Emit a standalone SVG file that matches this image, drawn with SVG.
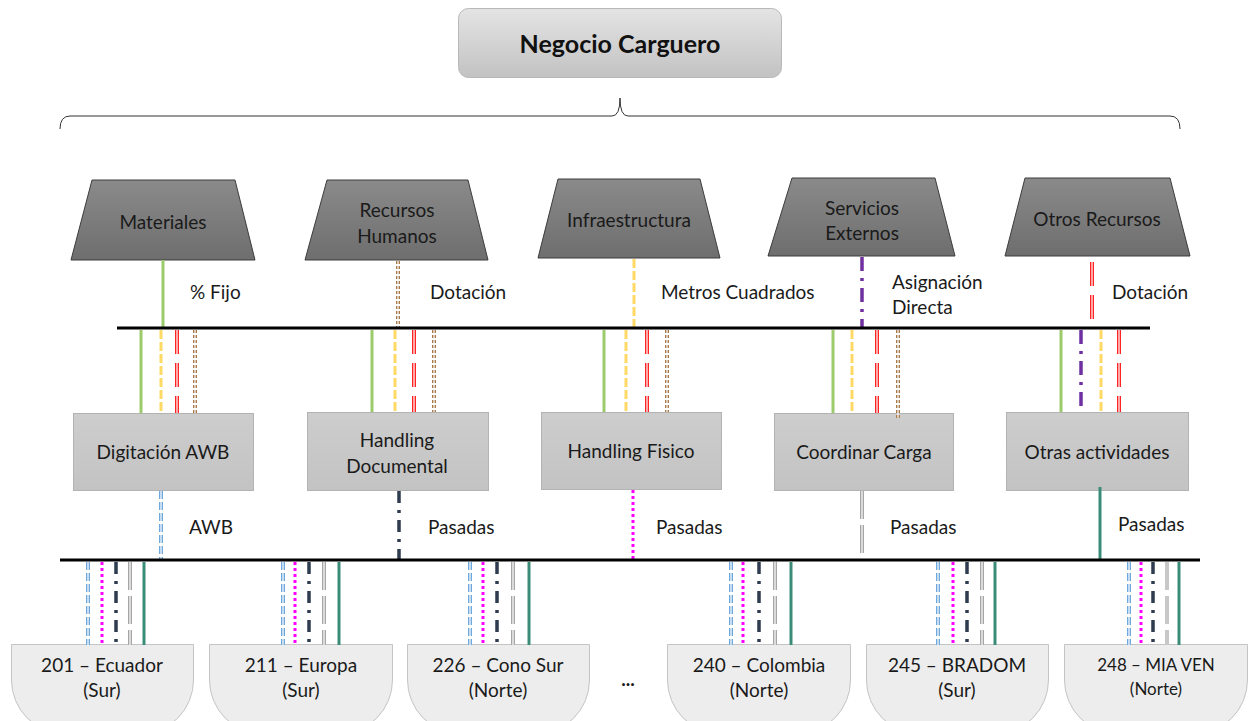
<svg xmlns="http://www.w3.org/2000/svg" width="1249" height="721" viewBox="0 0 1249 721">
  <defs>
    <linearGradient id="gTop" x1="0" y1="0" x2="0" y2="1">
      <stop offset="0" stop-color="#e4e4e4"/>
      <stop offset="1" stop-color="#c2c2c2"/>
    </linearGradient>
    <linearGradient id="gRes" x1="0" y1="0" x2="0" y2="1">
      <stop offset="0" stop-color="#8a8a8a"/>
      <stop offset="1" stop-color="#6e6e6e"/>
    </linearGradient>
    <linearGradient id="gAct" x1="0" y1="0" x2="0" y2="1">
      <stop offset="0" stop-color="#cdcdcd"/>
      <stop offset="1" stop-color="#c3c3c3"/>
    </linearGradient>
  </defs>
  <style>
    .t { font-family: Lato, "Open Sans", "Liberation Sans", sans-serif; font-size: 19px; fill: #1a1a1a; text-anchor: middle; }
    .lbl { font-family: Lato, "Open Sans", "Liberation Sans", sans-serif; font-size: 19px; fill: #1a1a1a; }
    .title { font-family: Lato, "Open Sans", "Liberation Sans", sans-serif; font-size: 25px; font-weight: bold; fill: #111; text-anchor: middle; }
    .res { fill: url(#gRes); stroke: #3c3c3c; stroke-width: 1; }
    .act { fill: url(#gAct); stroke: #b3b3b3; stroke-width: 1; }
    .reg { fill: #ededed; stroke: #c4c4c4; stroke-width: 1; }
    .bar { stroke: #000; stroke-width: 3; }
    .brace { fill: none; stroke: #333; stroke-width: 1; }
    .green { stroke: #9bcb6b; stroke-width: 3; }
    .yellow { stroke: #ffd966; stroke-width: 3; stroke-dasharray: 9 3; }
    .red { stroke: #ff2424; stroke-width: 4; stroke-dasharray: 24 9; }
    .brown { stroke: #a97a4c; stroke-width: 4; stroke-dasharray: 3 2; }
    .purple { stroke: #7030a0; stroke-width: 3.5; stroke-dasharray: 14 7 3 7; }
    .blue { stroke: #6fa8dc; stroke-width: 4; stroke-dasharray: 8 3; }
    .navy { stroke: #2f3b4f; stroke-width: 3.5; stroke-dasharray: 12 7 3 7; }
    .magenta { stroke: #ff00ff; stroke-width: 3; stroke-dasharray: 3 3; }
    .gray { stroke: #a6a6a6; stroke-width: 4; stroke-dasharray: 28 6; }
    .teal { stroke: #3a8c78; stroke-width: 3; }
    .core { stroke: #fff; stroke-width: 1.2; }
  </style>

  <rect width="1249" height="721" fill="#fff"/>

  <!-- root -->
  <g id="negocio-carguero">
    <rect x="458.5" y="8.5" width="323" height="69" rx="10" fill="url(#gTop)" stroke="#b8b8b8"/>
    <text class="title" x="620" y="53">Negocio Carguero</text>
  </g>

  <!-- brace spanning all resources -->
  <path class="brace" d="M60 129 Q60 116 70 116 H612 Q620 116 620 98 Q620 116 628 116 H1170 Q1180 116 1180 129"/>

  <!-- resources -->
  <g id="res-materiales">
    <polygon class="res" points="92,180 235,180 255,260 71,260"/>
    <text class="t" x="163" y="229">Materiales</text>
  </g>
  <g id="res-recursos-humanos">
    <polygon class="res" points="327,180 468,180 488,260 305,260"/>
    <text class="t" x="397" y="217">Recursos</text>
    <text class="t" x="397" y="243">Humanos</text>
  </g>
  <g id="res-infraestructura">
    <polygon class="res" points="558,179 700,179 720,258 538,258"/>
    <text class="t" x="629" y="227">Infraestructura</text>
  </g>
  <g id="res-servicios-externos">
    <polygon class="res" points="792,178 935,178 955,256 768,256"/>
    <text class="t" x="862" y="215">Servicios</text>
    <text class="t" x="862" y="240">Externos</text>
  </g>
  <g id="res-otros-recursos">
    <polygon class="res" points="1025,178 1170,178 1190,256 1005,256"/>
    <text class="t" x="1097" y="226">Otros Recursos</text>
  </g>

  <!-- activities -->
  <g id="act-digitacion-awb">
    <rect class="act" x="73.5" y="413.5" width="180" height="77"/>
    <text class="t" x="163" y="459">Digitación AWB</text>
  </g>
  <g id="act-handling-documental">
    <rect class="act" x="307.5" y="412.5" width="181" height="78"/>
    <text class="t" x="397" y="447">Handling</text>
    <text class="t" x="397" y="473">Documental</text>
  </g>
  <g id="act-handling-fisico">
    <rect class="act" x="541.5" y="412.5" width="180" height="77"/>
    <text class="t" x="631" y="458">Handling Fisico</text>
  </g>
  <g id="act-coordinar-carga">
    <rect class="act" x="774.5" y="413.5" width="179" height="77"/>
    <text class="t" x="864" y="459">Coordinar Carga</text>
  </g>
  <g id="act-otras-actividades">
    <rect class="act" x="1006.5" y="412.5" width="182" height="78"/>
    <text class="t" x="1097" y="459">Otras actividades</text>
  </g>

  <!-- regions -->
  <g id="reg-201">
    <path class="reg" d="M11.5 644.5 H193.5 V680 A54 54 0 0 1 139.5 734 H65.5 A54 54 0 0 1 11.5 680 Z"/>
    <text class="t" x="102" y="672">201 – Ecuador</text>
    <text class="t" x="102" y="697">(Sur)</text>
  </g>
  <g id="reg-211">
    <path class="reg" d="M209.5 644.5 H392.5 V680 A54 54 0 0 1 338.5 734 H263.5 A54 54 0 0 1 209.5 680 Z"/>
    <text class="t" x="301" y="672">211 – Europa</text>
    <text class="t" x="301" y="697">(Sur)</text>
  </g>
  <g id="reg-226">
    <path class="reg" d="M407.5 644.5 H589.5 V680 A54 54 0 0 1 535.5 734 H461.5 A54 54 0 0 1 407.5 680 Z"/>
    <text class="t" x="498" y="672">226 – Cono Sur</text>
    <text class="t" x="498" y="697">(Norte)</text>
  </g>
  <text class="t" x="628" y="686" style="font-weight:bold">...</text>
  <g id="reg-240">
    <path class="reg" d="M667.5 644.5 H850.5 V680 A54 54 0 0 1 796.5 734 H721.5 A54 54 0 0 1 667.5 680 Z"/>
    <text class="t" x="759" y="672">240 – Colombia</text>
    <text class="t" x="759" y="697">(Norte)</text>
  </g>
  <g id="reg-245">
    <path class="reg" d="M866.5 644.5 H1048.5 V680 A54 54 0 0 1 994.5 734 H920.5 A54 54 0 0 1 866.5 680 Z"/>
    <text class="t" x="957" y="672">245 – BRADOM</text>
    <text class="t" x="957" y="697">(Sur)</text>
  </g>
  <g id="reg-248">
    <path class="reg" d="M1064.5 644.5 H1247.5 V680 A54 54 0 0 1 1193.5 734 H1118.5 A54 54 0 0 1 1064.5 680 Z"/>
    <text class="t" x="1156" y="671" style="font-size:17px">248 – MIA VEN</text>
    <text class="t" x="1156" y="695" style="font-size:17px">(Norte)</text>
  </g>

  <!-- connectors -->
  <g id="connectors">
    <!-- resource drivers -->
    <line class="green" x1="163" y1="260" x2="163" y2="327"/>
    <line class="brown" x1="398" y1="261" x2="398" y2="327"/>
    <line class="core" x1="398" y1="261" x2="398" y2="327"/>
    <line class="yellow" x1="634" y1="259" x2="634" y2="327"/>
    <line class="purple" x1="862" y1="257" x2="862" y2="327"/>
    <line class="red" x1="1092" y1="262" x2="1092" y2="327"/>
    <line class="core" x1="1092" y1="262" x2="1092" y2="327"/>

    <line class="bar" x1="117" y1="328" x2="1150" y2="328"/>

    <!-- bar to activities -->
    <g>
      <line class="green" x1="141" y1="330" x2="141" y2="413"/>
      <line class="yellow" x1="161" y1="330" x2="161" y2="413"/>
      <line class="red" x1="177" y1="330" x2="177" y2="413"/>
      <line class="core" x1="177" y1="330" x2="177" y2="413"/>
      <line class="brown" x1="195" y1="330" x2="195" y2="413"/>
      <line class="core" x1="195" y1="330" x2="195" y2="413"/>

      <line class="green" x1="372" y1="330" x2="372" y2="412"/>
      <line class="yellow" x1="395" y1="330" x2="395" y2="412"/>
      <line class="red" x1="414" y1="330" x2="414" y2="412"/>
      <line class="core" x1="414" y1="330" x2="414" y2="412"/>
      <line class="brown" x1="434" y1="330" x2="434" y2="412"/>
      <line class="core" x1="434" y1="330" x2="434" y2="412"/>

      <line class="green" x1="604" y1="330" x2="604" y2="412"/>
      <line class="yellow" x1="626" y1="330" x2="626" y2="412"/>
      <line class="red" x1="647" y1="330" x2="647" y2="412"/>
      <line class="core" x1="647" y1="330" x2="647" y2="412"/>
      <line class="brown" x1="667" y1="330" x2="667" y2="412"/>
      <line class="core" x1="667" y1="330" x2="667" y2="412"/>

      <line class="green" x1="833" y1="330" x2="833" y2="413"/>
      <line class="yellow" x1="852" y1="330" x2="852" y2="413"/>
      <line class="red" x1="877" y1="330" x2="877" y2="413"/>
      <line class="core" x1="877" y1="330" x2="877" y2="413"/>
      <line class="brown" x1="898" y1="330" x2="898" y2="418"/>
      <line class="core" x1="898" y1="330" x2="898" y2="418"/>

      <line class="green" x1="1061" y1="330" x2="1061" y2="412"/>
      <line class="purple" x1="1081" y1="330" x2="1081" y2="412"/>
      <line class="yellow" x1="1101" y1="330" x2="1101" y2="412"/>
      <line class="red" x1="1119" y1="330" x2="1119" y2="412"/>
      <line class="core" x1="1119" y1="330" x2="1119" y2="412"/>
    </g>

    <!-- activity drivers -->
    <line class="blue" x1="161" y1="491" x2="161" y2="559"/>
    <line class="core" x1="161" y1="491" x2="161" y2="559"/>
    <line class="navy" x1="399" y1="491" x2="399" y2="559"/>
    <line class="magenta" x1="633" y1="490" x2="633" y2="559"/>
    <line class="gray" x1="862" y1="491" x2="862" y2="559"/>
    <line class="core" x1="862" y1="491" x2="862" y2="559"/>
    <line class="teal" x1="1100" y1="487" x2="1100" y2="559"/>

    <line class="bar" x1="60" y1="560" x2="1200" y2="560"/>

    <!-- bar to regions -->
    <g>
      <line class="blue" x1="88" y1="562" x2="88" y2="645"/>
      <line class="core" x1="88" y1="562" x2="88" y2="645"/>
      <line class="magenta" x1="102" y1="562" x2="102" y2="645"/>
      <line class="navy" x1="116" y1="562" x2="116" y2="645"/>
      <line class="gray" x1="130" y1="562" x2="130" y2="645"/>
      <line class="core" x1="130" y1="562" x2="130" y2="645"/>
      <line class="teal" x1="144" y1="562" x2="144" y2="645"/>

      <line class="blue" x1="283" y1="562" x2="283" y2="645"/>
      <line class="core" x1="283" y1="562" x2="283" y2="645"/>
      <line class="magenta" x1="295" y1="562" x2="295" y2="645"/>
      <line class="navy" x1="309" y1="562" x2="309" y2="645"/>
      <line class="gray" x1="324" y1="562" x2="324" y2="645"/>
      <line class="core" x1="324" y1="562" x2="324" y2="645"/>
      <line class="teal" x1="339" y1="562" x2="339" y2="645"/>

      <line class="blue" x1="470" y1="562" x2="470" y2="645"/>
      <line class="core" x1="470" y1="562" x2="470" y2="645"/>
      <line class="magenta" x1="483" y1="562" x2="483" y2="645"/>
      <line class="navy" x1="497" y1="562" x2="497" y2="645"/>
      <line class="gray" x1="513" y1="562" x2="513" y2="645"/>
      <line class="core" x1="513" y1="562" x2="513" y2="645"/>
      <line class="teal" x1="529" y1="562" x2="529" y2="645"/>

      <line class="blue" x1="731" y1="562" x2="731" y2="645"/>
      <line class="core" x1="731" y1="562" x2="731" y2="645"/>
      <line class="magenta" x1="743" y1="562" x2="743" y2="645"/>
      <line class="navy" x1="759" y1="562" x2="759" y2="645"/>
      <line class="gray" x1="775" y1="562" x2="775" y2="645"/>
      <line class="core" x1="775" y1="562" x2="775" y2="645"/>
      <line class="teal" x1="791" y1="562" x2="791" y2="645"/>

      <line class="blue" x1="938" y1="562" x2="938" y2="645"/>
      <line class="core" x1="938" y1="562" x2="938" y2="645"/>
      <line class="magenta" x1="953" y1="562" x2="953" y2="645"/>
      <line class="navy" x1="967" y1="562" x2="967" y2="645"/>
      <line class="gray" x1="982" y1="562" x2="982" y2="645"/>
      <line class="core" x1="982" y1="562" x2="982" y2="645"/>
      <line class="teal" x1="995" y1="562" x2="995" y2="645"/>

      <line class="blue" x1="1129" y1="562" x2="1129" y2="645"/>
      <line class="core" x1="1129" y1="562" x2="1129" y2="645"/>
      <line class="magenta" x1="1141" y1="562" x2="1141" y2="645"/>
      <line class="navy" x1="1153" y1="562" x2="1153" y2="645"/>
      <line class="gray" x1="1167" y1="562" x2="1167" y2="645" style="stroke:#c8c8c8"/>
      <line class="teal" x1="1179" y1="562" x2="1179" y2="645"/>
    </g>

    <!-- driver labels -->
    <text class="lbl" x="190" y="299">% Fijo</text>
    <text class="lbl" x="430" y="299">Dotación</text>
    <text class="lbl" x="661" y="299">Metros Cuadrados</text>
    <text class="lbl" x="892" y="289">Asignación</text>
    <text class="lbl" x="892" y="314">Directa</text>
    <text class="lbl" x="1112" y="299">Dotación</text>
    <text class="lbl" x="189" y="534">AWB</text>
    <text class="lbl" x="428" y="534">Pasadas</text>
    <text class="lbl" x="656" y="534">Pasadas</text>
    <text class="lbl" x="890" y="534">Pasadas</text>
    <text class="lbl" x="1118" y="531">Pasadas</text>
  </g>
</svg>
